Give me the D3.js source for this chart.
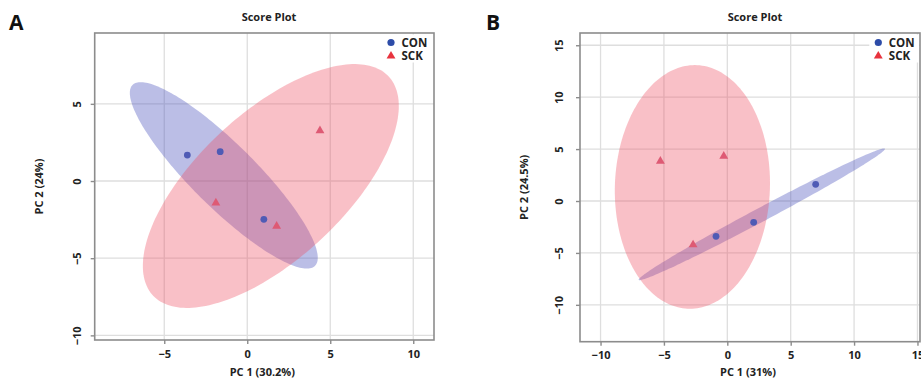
<!DOCTYPE html>
<html><head><meta charset="utf-8">
<script src="https://cdn.jsdelivr.net/npm/d3@7"></script>
<style>
html,body{margin:0;padding:0;background:#fff;}
svg{display:block;font-family:"Open Sans","Noto Sans",sans-serif;}
</style></head>
<body>
<svg id="c" width="921" height="380"></svg>
<script>
// ---- data ----
const groups = ["CON", "SCK"];
const conA_x = [-3.61, -1.63, 1.00];
const conA_y = [1.68, 1.90, -2.48];
const sckA_x = [4.38, -1.89, 1.77];
const sckA_y = [3.30, -1.38, -2.89];
const conB_x = [6.97, 2.08, -0.89];
const conB_y = [1.61, -2.05, -3.40];
const sckB_x = [-5.28, -0.28, -2.70];
const sckB_y = [3.88, 4.36, -4.17];
const xTicksA = [-5, 0, 5, 10];
const yTicksA = [-10, -5, 0, 5];
const xTicksB = [-10, -5, 0, 5, 10, 15];
const yTicksB = [-10, -5, 0, 5, 10, 15];
const titleText = "Score Plot";
const xLabelA = "PC 1 (30.2%)", yLabelA = "PC 2 (24%)";
const xLabelB = "PC 1 (31%)",   yLabelB = "PC 2 (24.5%)";

const svg = d3.select("#c");

function ellipsePts(xs, ys) {
  const n = xs.length;
  const mx = d3.mean(xs), my = d3.mean(ys);
  let a = 0, b = 0, c = 0;
  for (let i = 0; i < n; i++) {
    const dx = xs[i] - mx, dy = ys[i] - my;
    a += dx * dx; b += dx * dy; c += dy * dy;
  }
  a /= (n - 1); b /= (n - 1); c /= (n - 1);
  const t = Math.sqrt(5.991464547);
  const l11 = Math.sqrt(a), l21 = b / l11, l22 = Math.sqrt(Math.max(c - l21 * l21, 0));
  const pts = [];
  for (let k = 0; k < 200; k++) {
    const th = 2 * Math.PI * k / 200;
    const u = Math.cos(th), v = Math.sin(th);
    pts.push([mx + t * l11 * u, my + t * (l21 * u + l22 * v)]);
  }
  return pts;
}

function panel(cfg) {
  const g = svg.append("g");
  const x = d3.scaleLinear().domain(cfg.xd).range([cfg.left, cfg.right]);
  const y = d3.scaleLinear().domain(cfg.yd).range([cfg.bottom, cfg.top]);
  const clipId = "clip" + cfg.id;
  svg.append("defs").append("clipPath").attr("id", clipId)
    .append("rect").attr("x", cfg.left).attr("y", cfg.top)
    .attr("width", cfg.right - cfg.left).attr("height", cfg.bottom - cfg.top);

  // grid
  const grid = g.append("g").attr("clip-path", `url(#${clipId})`);
  grid.selectAll("line.vx").data(cfg.xt).join("line")
    .attr("x1", d => x(d)).attr("x2", d => x(d))
    .attr("y1", cfg.top).attr("y2", cfg.bottom)
    .attr("stroke", "#dedede").attr("stroke-width", 1.3);
  grid.selectAll("line.hy").data(cfg.yt).join("line")
    .attr("x1", cfg.left).attr("x2", cfg.right)
    .attr("y1", d => y(d)).attr("y2", d => y(d))
    .attr("stroke", "#dedede").attr("stroke-width", 1.3);

  // ellipses
  const line = d3.line().x(d => x(d[0])).y(d => y(d[1])).curve(d3.curveLinearClosed);
  const el = g.append("g").attr("clip-path", `url(#${clipId})`);
  el.append("path").attr("d", line(ellipsePts(cfg.cx, cfg.cy)))
    .attr("fill", "rgb(75,85,190)").attr("fill-opacity", 0.38);
  el.append("path").attr("d", line(ellipsePts(cfg.sx, cfg.sy)))
    .attr("fill", "rgb(237,75,95)").attr("fill-opacity", 0.35);

  // points
  const conPts = cfg.cx.map((v, i) => [v, cfg.cy[i]]);
  const sckPts = cfg.sx.map((v, i) => [v, cfg.sy[i]]);
  g.selectAll("circle.con").data(conPts).join("circle")
    .attr("cx", d => x(d[0])).attr("cy", d => y(d[1])).attr("r", 3.4)
    .attr("fill", "#4f5bb5");
  const tri = d3.symbol().type(d3.symbolTriangle).size(34);
  g.selectAll("path.sck").data(sckPts).join("path")
    .attr("d", tri).attr("transform", d => `translate(${x(d[0])},${y(d[1]) + 0.5})`)
    .attr("fill", "#de5a74");

  // legend background + legend
  g.append("rect").attr("x", cfg.legX - 9).attr("y", cfg.top + 1.5)
    .attr("width", cfg.right - cfg.legX + 8).attr("height", 28).attr("fill", "#fff");
  g.append("circle").attr("cx", cfg.legX).attr("cy", cfg.top + 9.5).attr("r", 3.6).attr("fill", "#2d4ca8");
  g.append("path").attr("d", tri).attr("transform", `translate(${cfg.legX},${cfg.top + 23})`).attr("fill", "#e8333e");
  g.selectAll("text.leg").data(groups).join("text")
    .attr("x", cfg.legX + 10.5).attr("y", (d, i) => cfg.top + 13.6 + i * 13.4)
    .attr("font-size", 11.5).attr("font-weight", 700).attr("fill", "#222")
    .text(d => d);

  // frame
  g.append("rect").attr("x", cfg.left).attr("y", cfg.top)
    .attr("width", cfg.right - cfg.left).attr("height", cfg.bottom - cfg.top)
    .attr("fill", "none").attr("stroke", "#8c8c8c").attr("stroke-width", 1.6);

  // axes
  const xa = g.append("g").attr("transform", `translate(0,${cfg.bottom})`)
    .call(d3.axisBottom(x).tickValues(cfg.xt).tickSize(4).tickPadding(6).tickFormat(d3.format("d")));
  xa.select(".domain").remove();
  xa.selectAll("line").attr("stroke", "#8c8c8c").attr("stroke-width", 1.4);
  xa.selectAll("text").attr("font-size", 11).attr("font-weight", 700).attr("fill", "#222")
    .attr("font-family", "'Open Sans','Noto Sans',sans-serif");

  const ya = g.append("g").attr("transform", `translate(${cfg.left},0)`)
    .call(d3.axisLeft(y).tickValues(cfg.yt).tickSize(4).tickFormat(d3.format("d")));
  ya.select(".domain").remove();
  ya.selectAll("line").attr("stroke", "#8c8c8c").attr("stroke-width", 1.4);
  ya.selectAll("text")
    .attr("x", 0).attr("dy", null).attr("y", 0)
    .attr("transform", `translate(${cfg.yTickX - cfg.left},0) rotate(-90)`)
    .attr("text-anchor", "middle").attr("dominant-baseline", "central")
    .attr("font-size", 11).attr("font-weight", 700).attr("fill", "#222")
    .attr("font-family", "'Open Sans','Noto Sans',sans-serif");

  // titles
  g.append("text").attr("x", cfg.titleX).attr("y", 21).attr("text-anchor", "middle")
    .attr("font-size", 11).attr("font-weight", 700).attr("fill", "#222").text(titleText);
  g.append("text").attr("x", (cfg.left + cfg.right) / 2 - 2).attr("y", 376).attr("text-anchor", "middle")
    .attr("font-size", 11).attr("font-weight", 700).attr("fill", "#222").text(cfg.xl);
  g.append("text").attr("transform", `translate(${cfg.yLabX},${(cfg.top + cfg.bottom) / 2}) rotate(-90)`)
    .attr("text-anchor", "middle").attr("dominant-baseline", "central")
    .attr("font-size", 11).attr("font-weight", 700).attr("fill", "#222").text(cfg.yl);
  g.append("text").attr("x", cfg.letterX).attr("y", 30)
    .attr("font-size", 21).attr("font-weight", 700).attr("fill", "#111")
    .attr("font-family", "'Open Sans','Noto Sans',sans-serif").text(cfg.letter);
}

panel({id: "A", letter: "A", letterX: 9, left: 94.7, right: 434, top: 33, bottom: 340,
  xd: [-9.19, 11.25], yd: [-10.30, 9.59], xt: xTicksA, yt: yTicksA,
  cx: conA_x, cy: conA_y, sx: sckA_x, sy: sckA_y,
  legX: 391, yTickX: 76, yLabX: 38, titleX: 269, xl: xLabelA, yl: yLabelA});
panel({id: "B", letter: "B", letterX: 486, left: 580, right: 920, top: 33, bottom: 341.7,
  xd: [-11.62, 15.2], yd: [-13.55, 16.18], xt: xTicksB, yt: yTicksB,
  cx: conB_x, cy: conB_y, sx: sckB_x, sy: sckB_y,
  legX: 878.3, yTickX: 558, yLabX: 523, titleX: 755, xl: xLabelB, yl: yLabelB});
</script>
</body></html>
